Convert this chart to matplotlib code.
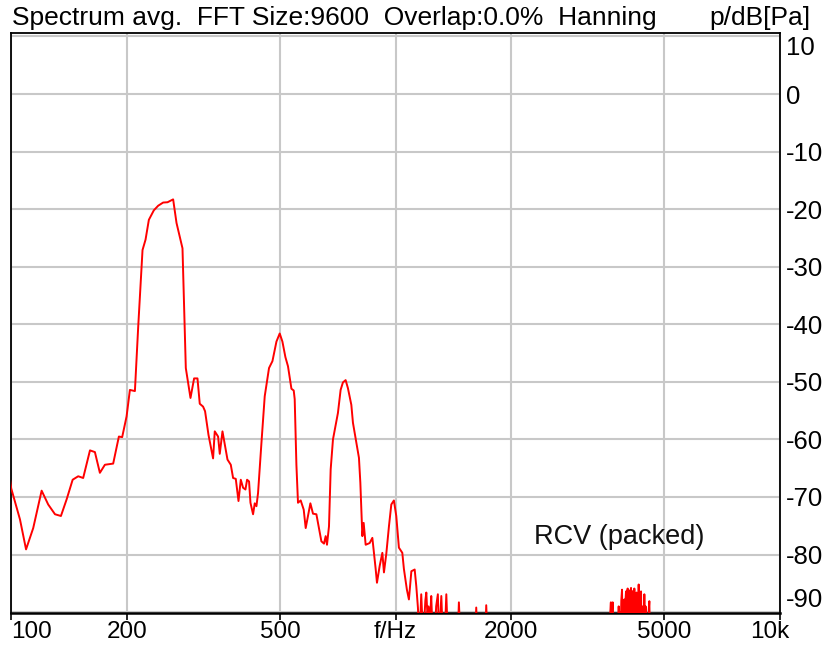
import matplotlib
matplotlib.use("Agg")
import matplotlib.pyplot as plt
import matplotlib.transforms as mtransforms
import numpy as np

plt.rcParams['font.family'] = ['Liberation Sans', 'DejaVu Sans']

# ---- data ----
freq_main = [98, 100, 105.4, 109.3, 114.1, 120.0, 124.8, 130.0, 134.7, 139.4, 144.5, 149.4,
             153.9, 160.3, 165.1, 170.1, 175.3, 184.2, 190.6, 194.4, 199.6, 203.6, 209.8,
             214.0, 219.6, 223.6, 228.1, 235.0, 241.2, 248.5, 255.1, 263.8, 269.2, 279.0,
             284.6, 292.7, 299.1, 305.2, 309.4, 315.6, 319.4, 326.0, 335.1, 338.5, 345.3,
             348.8, 354.5, 365.3, 372.6, 377.8, 383.9, 390.2, 395.6, 401.1, 406.8, 410.8,
             415.7, 419.2, 425.8, 430.1, 434.5, 438.7, 447.7, 456.6, 468.5, 478.2, 489.8,
             499.5, 507.6, 516.8, 524.9, 535.8, 543.2, 546.4, 552.0, 557.3, 566.4, 576.7,
             583.6, 600.2, 609.7, 622.2, 641.1, 651.2, 657.8, 663.0, 671.0, 677.8, 687.2,
             701.3, 707.9, 719.4, 729.4, 741.3, 751.6, 767.1, 774.5, 790.5, 802.9, 809.6,
             819.4, 825.9, 835.8, 856.1, 870.0, 887.4, 894.4, 908.9, 923.7, 932.6, 946.0,
             960.9, 974.6, 989.9, 1004, 1020, 1041, 1051, 1070, 1083, 1099, 1121, 1132, 1143]
level_main = [-64, -68.5, -73.9, -79.1, -75.4, -68.9, -71.3, -73.0, -73.3, -70.4, -67.0, -66.4,
              -66.7, -61.9, -62.2, -65.8, -64.4, -64.2, -59.5, -59.6, -56.0, -51.4, -51.6,
              -40.4, -27.1, -25.3, -21.85, -20.2, -19.4, -18.85, -18.8, -18.3, -22.4, -26.8,
              -47.6, -52.8, -49.4, -49.4, -53.8, -54.3, -55.1, -59.2, -63.3, -58.6, -59.5,
              -62.5, -58.6, -63.5, -64.4, -66.7, -66.85, -70.7, -67.0, -68.4, -68.7, -67.0,
              -67.3, -71.0, -73.0, -71.1, -71.6, -69.3, -60.6, -52.5, -47.6, -46.4, -43.0,
              -41.6, -43.0, -45.7, -47.3, -51.2, -51.5, -53.0, -64.4, -71.0, -70.6, -72.2,
              -75.4, -71.1, -72.9, -73.0, -77.7, -78.1, -76.8, -78.3, -75.1, -65.2, -60.0,
              -56.9, -55.4, -51.4, -50.1, -49.7, -51.1, -54.0, -57.1, -60.6, -63.2, -67.5,
              -76.8, -74.5, -78.3, -78.0, -77.1, -82.5, -84.9, -82.0, -79.7, -83.1, -79.8,
              -75.1, -71.3, -70.6, -73.3, -78.8, -79.7, -82.5, -86.1, -87.8, -82.9, -82.6,
              -85.5, -89.2]

freq_tail = [1154, 1166, 1180, 1195, 1202, 1210, 1218, 1230, 1238, 1250, 1263, 1275, 1288,
             1298, 1315, 1328, 1341, 1355, 1368, 1450, 1461, 1475, 1610, 1621, 1632, 1710,
             1721, 1735, 3590]
level_tail = [-95, -86.9, -95, -88.0, -86.6, -90.5, -89.0, -91.0, -87.2, -95, -95, -89.0, -86.9,
              -95, -87.2, -95, -95, -86.9, -95, -95, -88.3, -95, -95, -89.2, -95, -95,
              -88.8, -95, -95]

freq_hf = [3600, 3615, 3631, 3645, 3660, 3671, 3685, 3790, 3805, 3820, 3835, 3850, 3865, 3882,
           3895, 3910, 3922, 3936, 3950, 3963, 3976, 3990, 4002, 4015, 4030, 4045, 4058, 4072,
           4085, 4097, 4110, 4125, 4138, 4152, 4165, 4179, 4193, 4208, 4222, 4237, 4250, 4264,
           4277, 4289, 4302, 4316, 4330, 4350, 4364, 4380, 4395, 4420, 4437, 4455, 4470, 4488,
           4535, 4552, 4572, 4590, 4660, 10000]
level_hf = [-95, -90.5, -88.3, -95, -89.5, -88.3, -95, -95, -89.0, -95, -90.0, -95, -88.0, -86.1,
            -95, -89.0, -95, -87.8, -95, -88.0, -86.4, -95, -87.0, -85.9, -95, -86.5, -95, -86.2,
            -95, -85.8, -95, -86.5, -95, -86.3, -95, -85.9, -95, -87.0, -95, -86.6, -95, -87.5,
            -95, -85.2, -95, -88.0, -95, -86.4, -95, -89.0, -95, -95, -86.9, -95, -89.0, -95,
            -95, -90.0, -88.1, -95, -95, -95]

xticks = [100, 200, 500, 1000, 2000, 5000, 10000]
xticklabels = ['100', '200', '500', 'f/Hz', '2000', '5000', '10k']
yticks = [10, 0, -10, -20, -30, -40, -50, -60, -70, -80, -90]
yticklabels = ['10', '0', '-10', '-20', '-30', '-40', '-50', '-60', '-70', '-80', '-90']

title_text = 'Spectrum avg.  FFT Size:9600  Overlap:0.0%  Hanning'
unit_text = 'p/dB[Pa]'
legend_text = 'RCV (packed)'

# ---- figure ----
W, H = 833, 645
fig = plt.figure(figsize=(W / 100, H / 100), dpi=100)
ax = fig.add_axes([11.2 / W, 1 - 612.7 / H, (780 - 11.2) / W, (612.7 - 33) / H])

freq = freq_main + freq_tail + freq_hf
level = level_main + level_tail + level_hf
ax.plot(freq, level, color='#ff0000', lw=1.4, zorder=3)

ax.set_xscale('log')
ax.set_xlim(100, 10000)
ax.set_ylim(-90.1, 10.6)

ax.set_xticks(xticks)
ax.set_xticklabels(xticklabels, fontsize=17.5)
ax.xaxis.set_minor_locator(matplotlib.ticker.NullLocator())
ax.tick_params(axis='x', direction='out', length=5, width=1.2, color='black', pad=1)

ax.yaxis.tick_right()
ax.set_yticks(yticks)
ax.set_yticklabels(yticklabels, fontsize=18.5)
ax.tick_params(axis='y', length=0, pad=4)
for lab in ax.get_yticklabels():
    lab.set_horizontalalignment('left')
ylabs = ax.get_yticklabels()
ylabs[0].set_verticalalignment('top')
ylabs[-1].set_verticalalignment('bottom')

xlabs = ax.get_xticklabels()
xlabs[0].set_horizontalalignment('left')
xlabs[-1].set_transform(xlabs[-1].get_transform() +
                        mtransforms.ScaledTranslation(-10 / 100, 0, fig.dpi_scale_trans))

ax.grid(True, which='major', color='#c8c8c8', lw=1.5)
ax.set_axisbelow(True)
for side in ['left', 'right', 'top', 'bottom']:
    ax.spines[side].set_color('black')
    ax.spines[side].set_linewidth(1.3)
ax.spines['bottom'].set_linewidth(1.8)

ax.text(0.7906, 0.1306, legend_text, transform=ax.transAxes, fontsize=19.5,
        ha='center', va='center', color='#111111')

fig.text(12 / W, 1 - 18 / H, title_text, fontsize=19, ha='left', va='center')
fig.text(810 / W, 1 - 18 / H, unit_text, fontsize=19, ha='right', va='center')

fig.savefig('out.png', dpi=100)
